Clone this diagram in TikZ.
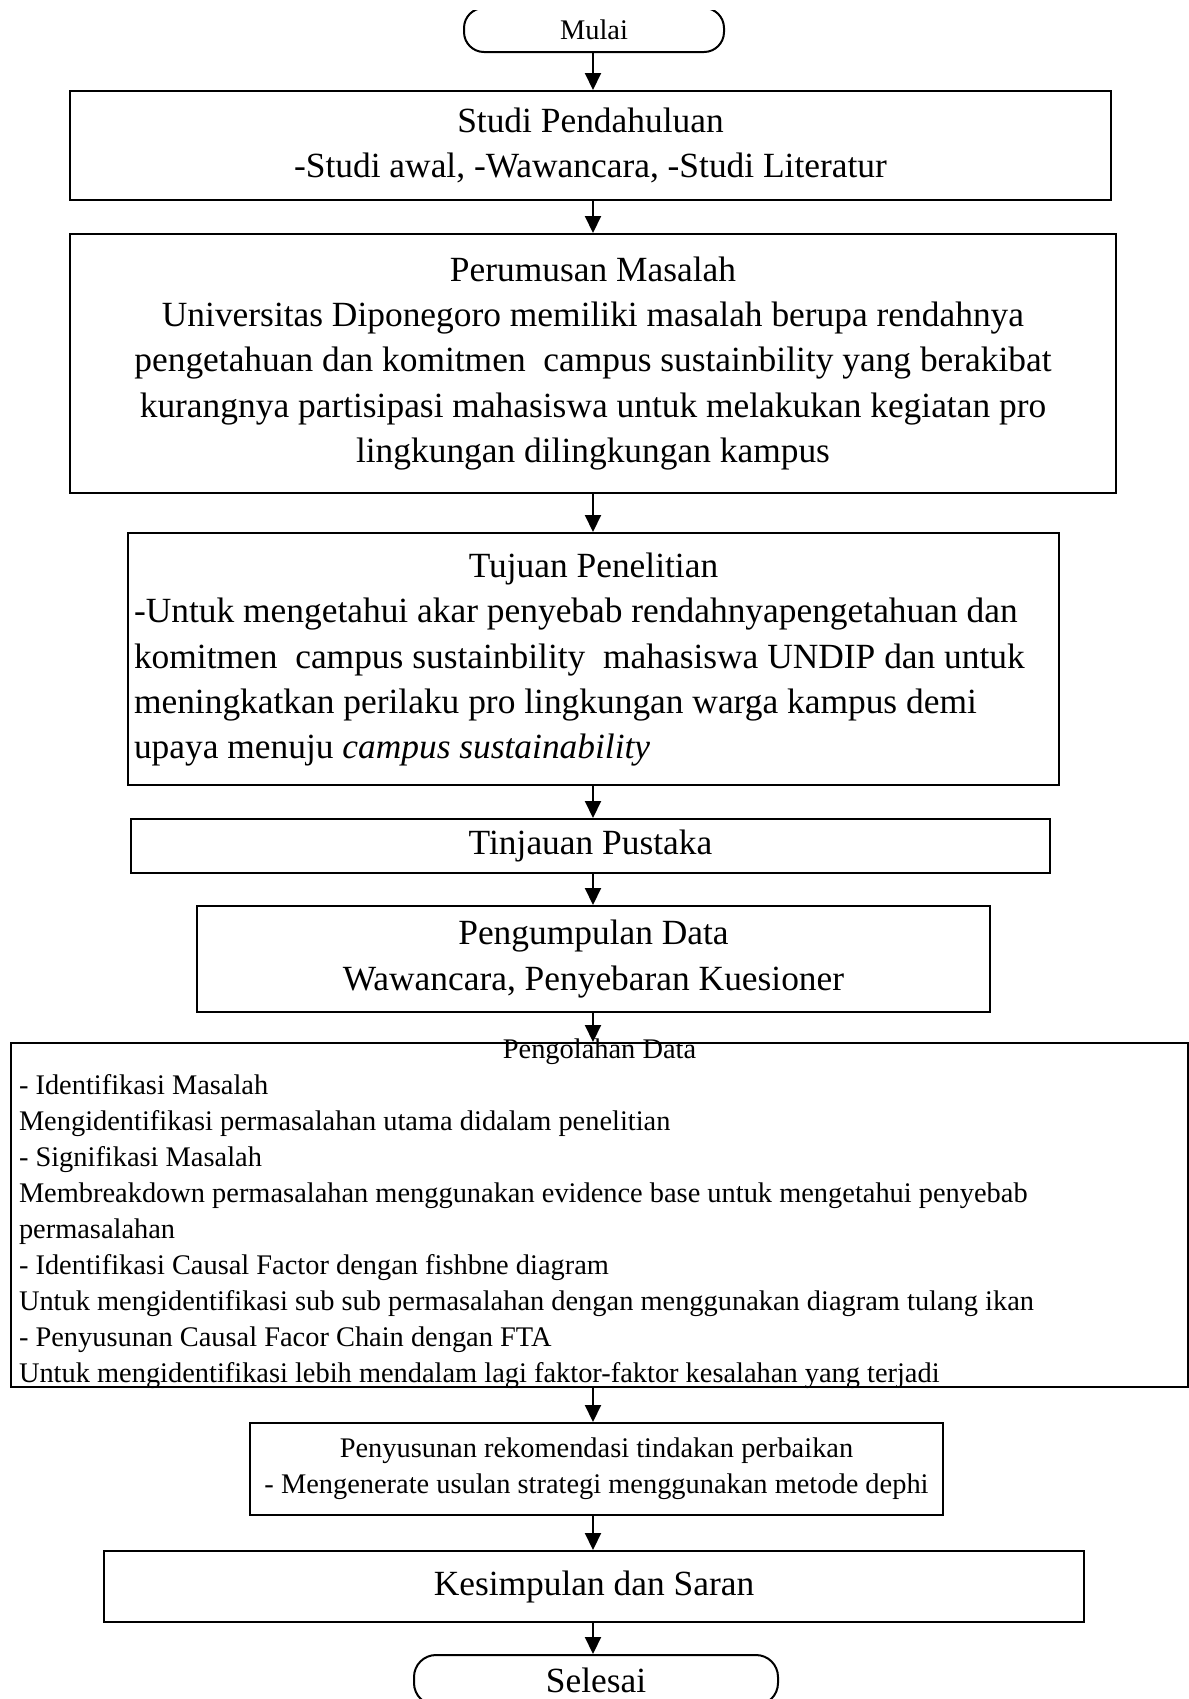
\documentclass[tikz,border=0pt]{standalone}
\usepackage{fontspec}
\setmainfont{Liberation Serif}
\usetikzlibrary{arrows.meta,positioning}

\newcommand{\mainsize}{\fontsize{17.7}{22.6}\selectfont}
\newcommand{\smallsize}{\fontsize{14.2}{18}\selectfont}

\begin{document}
\begin{tikzpicture}[
  x=0.5pt, y=-0.5pt, line width=1pt,
  >={Triangle[width=8pt,length=8.5pt]},
  box/.style={draw, rectangle, inner sep=0pt, font=\mainsize},
  terminal/.style={draw, rectangle, rounded corners=10pt, inner sep=0pt},
]
\useasboundingbox (0,0) rectangle (1189,1699);
\clip (0,10) rectangle (1189,1699);
\coordinate (col) at (593,0);

\node[terminal, minimum width=130pt, minimum height=22pt, font=\smallsize] (mulai) at (594,30) {Mulai};
\node[box, align=center, minimum width=520.5pt, minimum height=54.5pt] (studi) at (590.5,145.5)
  {Studi Pendahuluan\\-Studi awal, -Wawancara, -Studi Literatur};
\node[box, align=center, minimum width=523pt, minimum height=129.5pt] (rumusan) at (593,363.5)
  {Perumusan Masalah\\Universitas Diponegoro memiliki masalah berupa rendahnya\\
   pengetahuan dan komitmen\ \ campus sustainbility yang berakibat\\
   kurangnya partisipasi mahasiswa untuk melakukan kegiatan pro\\
   lingkungan dilingkungan kampus};
\node[box, minimum width=465.5pt, minimum height=126pt] (tujuan) at (593.5,659) {%
  \begin{tabular}{@{}p{459.5pt}@{}}
  \multicolumn{1}{@{}c@{}}{Tujuan Penelitian}\\
  -Untuk mengetahui akar penyebab rendahnyapengetahuan dan\\
  komitmen\ \ campus sustainbility\ \ mahasiswa UNDIP dan untuk\\
  meningkatkan perilaku pro lingkungan warga kampus demi\\
  upaya menuju \textit{campus sustainability}
  \end{tabular}};
\node[box, minimum width=459.5pt, minimum height=27pt] (tinjauan) at (590.5,846) {Tinjauan Pustaka};
\node[box, align=center, minimum width=396.5pt, minimum height=53pt] (kumpul) at (593.5,959)
  {Pengumpulan Data\\Wawancara, Penyebaran Kuesioner};
\node[box, minimum width=588.5pt, minimum height=172pt] (olah) at (599.5,1215) {};
\node[anchor=west, inner sep=0pt, font=\smallsize] (olahtext) at ([xshift=4pt, yshift=1pt]olah.west) {%
  \begin{tabular}{@{}p{580.5pt}@{}}
  \multicolumn{1}{@{}c@{}}{Pengolahan Data}\\
  - Identifikasi Masalah\\
  Mengidentifikasi permasalahan utama didalam penelitian\\
  - Signifikasi Masalah\\
  Membreakdown permasalahan menggunakan evidence base untuk mengetahui penyebab\\
  permasalahan\\
  - Identifikasi Causal Factor dengan fishbne diagram\\
  Untuk mengidentifikasi sub sub permasalahan dengan menggunakan diagram tulang ikan\\
  - Penyusunan Causal Facor Chain dengan FTA\\
  Untuk mengidentifikasi lebih mendalam lagi faktor-faktor kesalahan yang terjadi
  \end{tabular}};
\node[box, align=center, font=\smallsize, minimum width=346.5pt, minimum height=46pt] (rekomendasi) at (596.5,1469)
  {Penyusunan rekomendasi tindakan perbaikan\\- Mengenerate usulan strategi menggunakan metode dephi};
\node[box, minimum width=490pt, minimum height=35.5pt] (simpulan) at (594,1586.5) {Kesimpulan dan Saran};
\node[terminal, rounded corners=11pt, minimum width=182pt, minimum height=25pt, font=\mainsize] (selesai) at (596,1680) {Selesai};

\draw[->] (mulai.south -| col) -- (studi.north -| col);
\draw[->] (studi.south -| col) -- (rumusan.north -| col);
\draw[->] (rumusan.south -| col) -- (tujuan.north -| col);
\draw[->] (tujuan.south -| col) -- (tinjauan.north -| col);
\draw[->] (tinjauan.south -| col) -- (kumpul.north -| col);
\draw[->] (kumpul.south -| col) -- (olah.north -| col);
\draw[->] (olah.south -| col) -- (rekomendasi.north -| col);
\draw[->] (rekomendasi.south -| col) -- (simpulan.north -| col);
\draw[->] (simpulan.south -| col) -- (selesai.north -| col);
\end{tikzpicture}
\end{document}
